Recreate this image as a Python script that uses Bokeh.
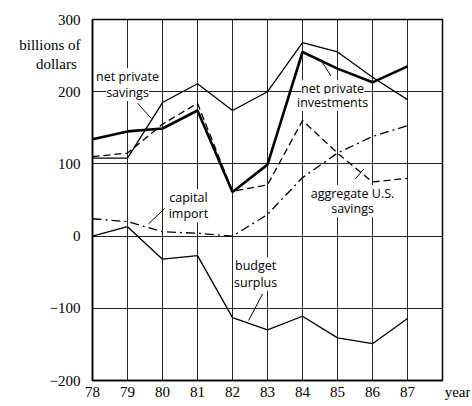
from bokeh.plotting import figure
from bokeh.models import Label, FixedTicker, Range1d
from bokeh.embed import file_html
from bokeh.resources import INLINE

# ---- data (billions of dollars) ----
years = [78, 79, 80, 81, 82, 83, 84, 85, 86, 87]
net_private_savings = [108, 108, 185, 211, 174, 200, 268, 255, 220, 189]
net_private_investments = [134, 145, 149, 174, 61, 99, 255, 232, 213, 235]
aggregate_savings = [110, 115, 155, 184, 62, 71, 160, 115, 75, 80]
capital_import = [24, 20, 6, 4, 0, 30, 81, 115, 138, 153]
budget_surplus = [0, 13, -32, -27, -113, -130, -111, -141, -149, -114]

x_ticks = [78, 79, 80, 81, 82, 83, 84, 85, 86, 87]
y_ticks = [-200, -100, 0, 100, 200, 300]
NB = "\u00a0"
x_title = (88, NB * 9 + "year")                       # axis title at the right end
y_title = (251.5, "billions of\ndollars" + NB)        # unit title above the axis

# series labels: (text lines, x, y of each line)
series_labels = [
    (["net private", "savings"], 79.0, [221, 199]),
    (["net private", "investments"], 84.86, [204, 185]),
    (["aggregate U.S.", "savings"], 85.43, [59, 38]),
    (["capital", "import"], 80.74, [53, 31]),
    (["budget", "surplus"], 82.66, [-41, -64]),
]
# leader lines: x0, y0, x1, y1
leaders_x0 = [79.29, 84.81, 85.51, 80.06, 82.86]
leaders_y0 = [184, 222, 79, 38, -80]
leaders_x1 = [79.68, 84.51, 85.75, 79.60, 82.46]
leaders_y1 = [163, 245, 93, 17, -117]

p = figure(width=470, height=404, output_backend="svg", toolbar_location=None,
           x_range=Range1d(78, 88), y_range=Range1d(-200, 300),
           min_border_left=92, min_border_top=19, min_border_right=28,
           min_border_bottom=24)
p.background_fill_color = "white"
p.border_fill_color = "white"
p.outline_line_color = "black"
p.outline_line_width = 1.5

for ax in (p.xaxis[0], p.yaxis[0]):
    ax.major_tick_in = 0
    ax.major_tick_out = 0
    ax.minor_tick_in = 0
    ax.minor_tick_out = 0
    ax.axis_line_color = "black"
    ax.axis_line_width = 1.5
    ax.major_label_text_font = "Liberation Serif"
    ax.major_label_text_font_size = "15px"
    ax.major_label_text_color = "black"
p.xaxis.ticker = FixedTicker(ticks=x_ticks + [x_title[0]])
p.xaxis.major_label_overrides = {x_title[0]: x_title[1]}
p.yaxis.ticker = FixedTicker(ticks=y_ticks + [y_title[0]])
p.yaxis.major_label_overrides = {y_title[0]: y_title[1]}
p.xaxis.major_label_standoff = 3
p.yaxis.major_label_standoff = 12

p.xgrid.ticker = FixedTicker(ticks=x_ticks)
p.ygrid.ticker = FixedTicker(ticks=y_ticks)
for g in (p.xgrid[0], p.ygrid[0]):
    g.grid_line_color = "black"
    g.grid_line_width = 1
    g.grid_line_alpha = 0.85

p.line(years, net_private_savings, line_color="black", line_width=1.3)
p.line(years, net_private_investments, line_color="black", line_width=2.6)
p.line(years, aggregate_savings, line_color="black", line_width=1.3, line_dash="7 4")
p.line(years, capital_import, line_color="black", line_width=1.3, line_dash="9 4 2 4")
p.line(years, budget_surplus, line_color="black", line_width=1.3)

p.segment(x0=leaders_x0, y0=leaders_y0, x1=leaders_x1, y1=leaders_y1,
          line_color="black", line_width=1)

for lines, lx, lys in series_labels:
    for t, ly in zip(lines, lys):
        p.add_layout(Label(x=lx, y=ly, text=t, text_align="center",
                           text_baseline="middle", text_font="Open Sans",
                           text_font_size="12.5px", text_color="black",
                           background_fill_color="white"))

open("out.html", "w").write(file_html(p, INLINE))
